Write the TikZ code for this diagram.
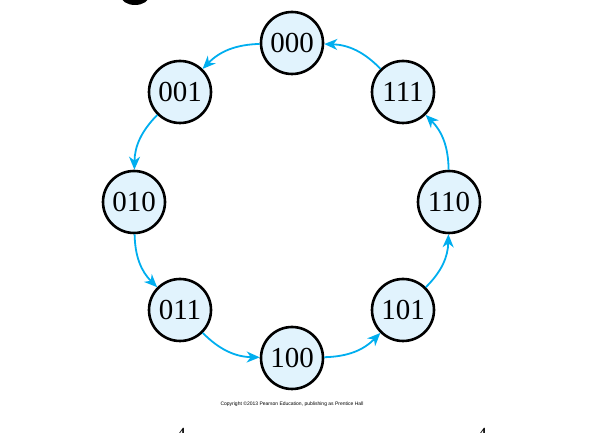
\documentclass[tikz,border=0pt]{standalone}
\usepackage{fontspec}
\setmainfont{Liberation Serif}
\setsansfont{Liberation Sans}
\usetikzlibrary{arrows.meta}
\definecolor{statefill}{RGB}{225,243,253}
\definecolor{arrowblue}{RGB}{0,174,239}

\begin{document}
\begin{tikzpicture}[x=1pt,y=1pt,
        state/.style={circle, draw=black, line width=2.6pt, fill=statefill, minimum size=62pt, inner sep=0pt, font=\fontsize{29}{30}\selectfont},
        trans/.style={draw=arrowblue, line width=1.8pt, -{Stealth[length=13pt,width=11pt,inset=4pt]}, bend right=22}]
        \useasboundingbox (0,0) rectangle (591,433);

        \fill (135,437) ellipse (14 and 9);

        \node[state] (s000) at (292,390) {000};
        \node[state] (s001) at (180,341) {001};
        \node[state] (s010) at (134,231) {010};
        \node[state] (s011) at (180,123) {011};
        \node[state] (s100) at (292,75) {100};
        \node[state] (s101) at (403,123) {101};
        \node[state] (s110) at (449,231) {110};
        \node[state] (s111) at (403,341) {111};

        \draw[trans] (s000) to (s001);
        \draw[trans] (s001) to (s010);
        \draw[trans] (s010) to (s011);
        \draw[trans] (s011) to (s100);
        \draw[trans] (s100) to (s101);
        \draw[trans] (s101) to (s110);
        \draw[trans] (s110) to (s111);
        \draw[trans] (s111) to (s000);

        \node[font=\sffamily\fontsize{5}{6}\selectfont] (copy) at (292,29) {Copyright \textcopyright2013 Pearson Education, publishing as Prentice Hall};
        \node[anchor=north, font=\fontsize{20}{20}\selectfont] (cutl) at (181,8) {4};
        \node[anchor=north, font=\fontsize{20}{20}\selectfont] (cutr) at (482,8) {4};
    \end{tikzpicture}
\end{document}
